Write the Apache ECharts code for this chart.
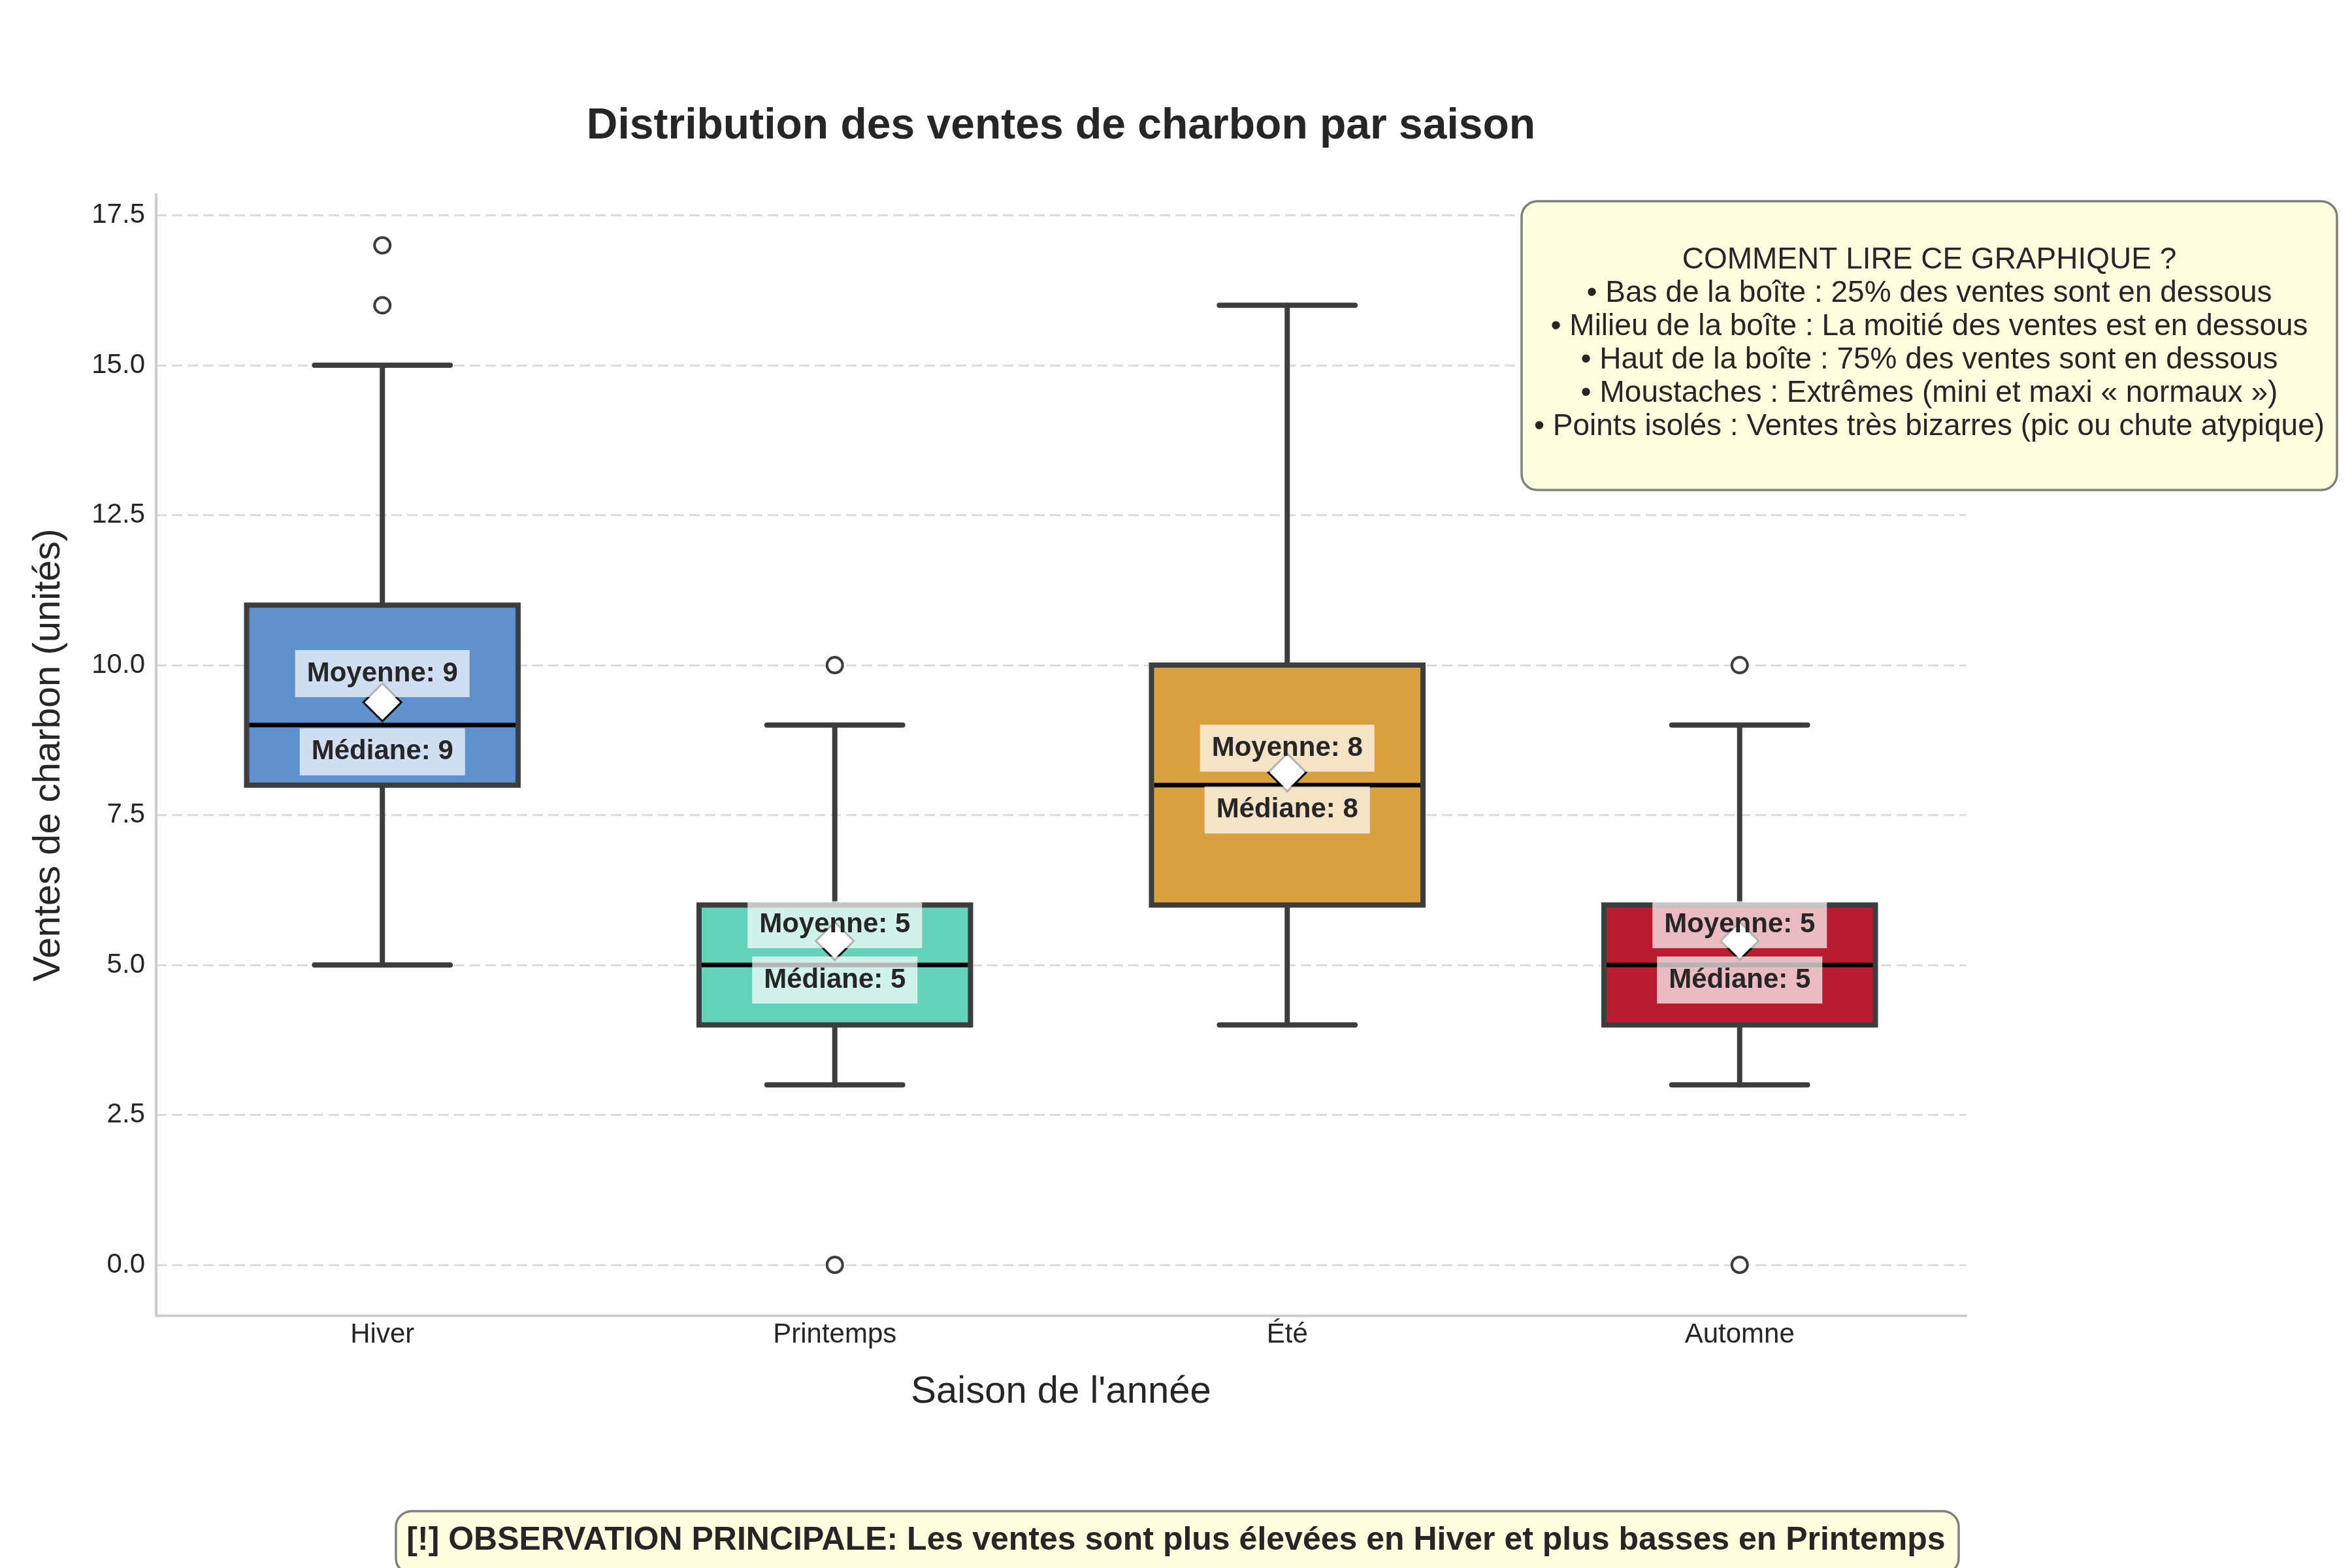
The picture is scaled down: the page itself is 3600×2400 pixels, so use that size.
<!DOCTYPE html>
<html><head><meta charset="utf-8">
<script src="https://cdn.jsdelivr.net/npm/echarts@6/dist/echarts.min.js"></script>
<style>html,body{margin:0;padding:0;background:#fff}#c{width:3600px;height:2400px}</style>
</head><body><div id="c"></div>
<script>
// ---------- data ----------
const categories = ['Hiver', 'Printemps', 'Été', 'Automne'];
const whiskerLow = [5, 3, 4, 3];
const q1 = [8, 4, 6, 4];
const median = [9, 5, 8, 5];
const q3 = [11, 6, 10, 6];
const whiskerHigh = [15, 9, 16, 9];
const means = [9.38, 5.40, 8.21, 5.40];
const outlierCat = [0, 0, 1, 1, 3, 3];
const outlierVal = [17, 16, 10, 0, 10, 0];
const yTicks = [0, 2.5, 5, 7.5, 10, 12.5, 15, 17.5];
const titleText = 'Distribution des ventes de charbon par saison';
const yName = 'Ventes de charbon (unités)';
const xName = "Saison de l'année";
const infoLines = [
  'COMMENT LIRE CE GRAPHIQUE ?',
  '• Bas de la boîte : 25% des ventes sont en dessous',
  '• Milieu de la boîte : La moitié des ventes est en dessous',
  '• Haut de la boîte : 75% des ventes sont en dessous',
  '• Moustaches : Extrêmes (mini et maxi « normaux »)',
  '• Points isolés : Ventes très bizarres (pic ou chute atypique)'
];
const observation = '[!] OBSERVATION PRINCIPALE: Les ventes sont plus élevées en Hiver et plus basses en Printemps';

// ---------- style / layout ----------
const boxColors = ['#5E91CD', '#63D2B8', '#DAA03F', '#B71C30'];
const FONT = "'Liberation Sans', Arial, Helvetica, sans-serif";
const DARK = '#262626';
const EDGE = '#3d3d3d';
const meanLabelShift = [-44, -25, -37, -25];
const medianLabelShift = [41, 23, 38, 23];

const boxData = categories.map((c, i) => [i, whiskerLow[i], q1[i], median[i], q3[i], whiskerHigh[i]]);
const outlierData = outlierCat.map((c, k) => [c, outlierVal[k]]);
const meanData = means.map((m, i) => [i, m]);
const labelData = categories.map((c, i) => [i, means[i], median[i]]);

function renderBox(params, api) {
  const i = api.value(0);
  const pLow = api.coord([i, api.value(1)]);
  const pQ1 = api.coord([i, api.value(2)]);
  const pMed = api.coord([i, api.value(3)]);
  const pQ3 = api.coord([i, api.value(4)]);
  const pHigh = api.coord([i, api.value(5)]);
  const band = api.size([1, 0])[0];
  const bw = band * 0.6;
  const cw = band * 0.3;
  const x = pMed[0];
  const ls = { stroke: EDGE, lineWidth: 8, lineCap: 'round' };
  return {
    type: 'group',
    children: [
      { type: 'line', shape: { x1: x, y1: pLow[1], x2: x, y2: pQ1[1] }, style: ls },
      { type: 'line', shape: { x1: x, y1: pQ3[1], x2: x, y2: pHigh[1] }, style: ls },
      { type: 'line', shape: { x1: x - cw / 2, y1: pLow[1], x2: x + cw / 2, y2: pLow[1] }, style: ls },
      { type: 'line', shape: { x1: x - cw / 2, y1: pHigh[1], x2: x + cw / 2, y2: pHigh[1] }, style: ls },
      { type: 'rect', shape: { x: x - bw / 2, y: pQ3[1], width: bw, height: pQ1[1] - pQ3[1] },
        style: { fill: boxColors[i], stroke: EDGE, lineWidth: 8 } },
      { type: 'line', shape: { x1: x - bw / 2 + 4, y1: pMed[1], x2: x + bw / 2 - 4, y2: pMed[1] },
        style: { stroke: '#000', lineWidth: 7 } }
    ]
  };
}

function renderLabels(params, api) {
  const i = api.value(0);
  const pMean = api.coord([i, api.value(1)]);
  const pMed = api.coord([i, api.value(2)]);
  const common = {
    fill: DARK, fontSize: 42, fontWeight: 'bold', fontFamily: FONT,
    align: 'center', verticalAlign: 'middle',
    backgroundColor: 'rgba(255,255,255,0.7)', padding: [15, 18, 15, 18]
  };
  return {
    type: 'group',
    children: [
      { type: 'text', x: pMean[0], y: pMean[1] + meanLabelShift[i],
        style: Object.assign({ text: 'Moyenne: ' + Math.round(api.value(1)) }, common) },
      { type: 'text', x: pMed[0], y: pMed[1] + medianLabelShift[i],
        style: Object.assign({ text: 'Médiane: ' + Math.round(api.value(2)) }, common) }
    ]
  };
}

const chart = echarts.init(document.getElementById('c'), null, { renderer: 'canvas' });
chart.setOption({
  backgroundColor: '#ffffff',
  animation: false,
  textStyle: { fontFamily: FONT },
  grid: { left: 239, right: 591, top: 297.5, bottom: 386, containLabel: false },
  xAxis: {
    type: 'category',
    data: categories,
    boundaryGap: true,
    axisLine: { show: true, onZero: false, lineStyle: { color: '#cccccc', width: 4 } },
    axisTick: { show: false },
    axisLabel: { fontSize: 42, color: DARK, margin: 8, fontFamily: FONT },
    splitLine: { show: false },
    name: xName,
    nameLocation: 'middle',
    nameGap: 88,
    nameTextStyle: { fontSize: 58, color: DARK, fontFamily: FONT }
  },
  yAxis: {
    type: 'value',
    min: -0.85,
    max: 17.85,
    axisLine: { show: true, onZero: false, lineStyle: { color: '#cccccc', width: 4 } },
    axisTick: { show: false, customValues: yTicks },
    axisLabel: { customValues: yTicks, fontSize: 42, color: DARK, margin: 17, fontFamily: FONT,
      formatter: v => Number(v).toFixed(1) },
    splitLine: { show: true, lineStyle: { color: '#dcdcdc', width: 3, type: [16, 8] } },
    name: yName,
    nameLocation: 'middle',
    nameGap: 135,
    nameTextStyle: { fontSize: 58, color: DARK, fontFamily: FONT }
  },
  series: [
    { type: 'custom', name: 'boxes', data: boxData, renderItem: renderBox, z: 2, clip: false,
      encode: { x: 0, y: [1, 2, 3, 4, 5] } },
    { type: 'scatter', name: 'outliers', data: outlierData, symbol: 'circle', symbolSize: 24, z: 3,
      itemStyle: { color: '#ffffff', borderColor: EDGE, borderWidth: 4, opacity: 1 } },
    { type: 'scatter', name: 'moyennes', data: meanData, symbol: 'diamond', symbolSize: 58, z: 4,
      itemStyle: { color: '#ffffff', borderColor: '#000000', borderWidth: 3, opacity: 1 } },
    { type: 'custom', name: 'labels', data: labelData, renderItem: renderLabels, z: 5, clip: false,
      encode: { x: 0, y: [1, 2] } }
  ],
  graphic: [
    { type: 'text', x: 1624, y: 194, z: 10,
      style: { text: titleText, fontSize: 66, fontWeight: 'bold', fill: DARK, fontFamily: FONT,
        align: 'center', verticalAlign: 'middle' } },
    { type: 'rect', x: 2329, y: 308, z: 10,
      shape: { width: 1248, height: 442, r: 24 },
      style: { fill: '#FFFFE0', stroke: '#808080', lineWidth: 3.5 } },
    { type: 'text', x: 2953, y: 526, z: 11,
      style: { text: infoLines.join('\n'), fontSize: 46, lineHeight: 51, fill: DARK, fontFamily: FONT,
        align: 'center', verticalAlign: 'middle' } },
    { type: 'rect', x: 606, y: 2313, z: 10,
      shape: { width: 2392, height: 96, r: 24 },
      style: { fill: '#FFFFE0', stroke: '#808080', lineWidth: 3.5 } },
    { type: 'text', x: 1800, y: 2358, z: 11,
      style: { text: observation, fontSize: 50, fontWeight: 'bold', fill: DARK, fontFamily: FONT,
        align: 'center', verticalAlign: 'middle' } }
  ]
});
</script>
</body></html>
